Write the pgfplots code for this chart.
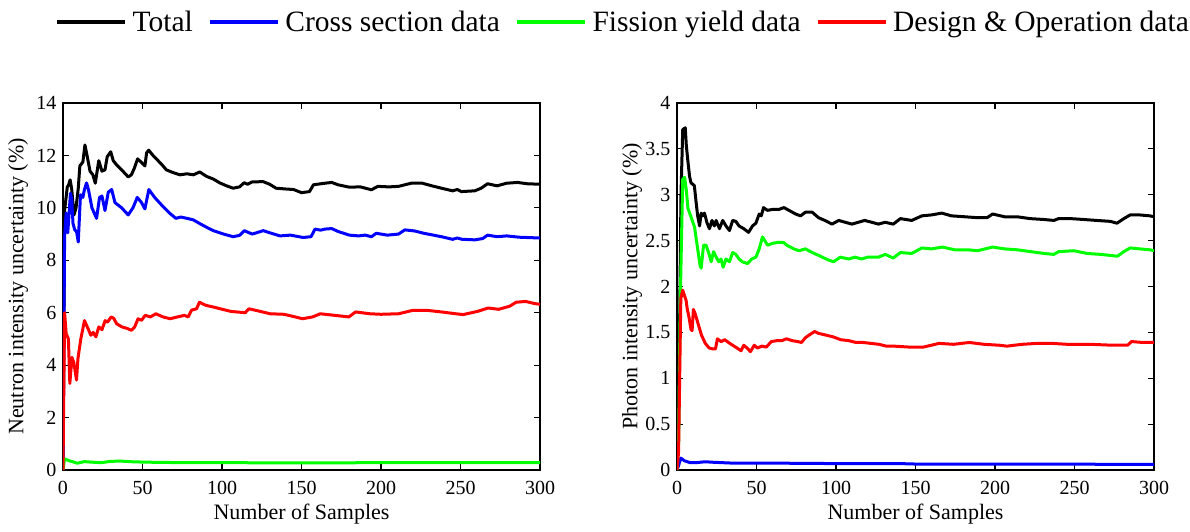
\documentclass[border=0pt]{standalone}
\usepackage{fontspec}
\setmainfont{Liberation Serif}
\usepackage{pgfplots}
\pgfplotsset{compat=1.18}

\begin{document}
\begin{tikzpicture}
\definecolor{cblue}{RGB}{0,0,255}
\definecolor{cgreen}{RGB}{0,255,0}
\definecolor{cred}{RGB}{255,0,0}
% fix the page to the reference frame (axis origin at 63px,470px)
\useasboundingbox (-63pt,-61pt) rectangle (1127pt,470pt);
\pgfplotsset{
  panel/.style={
    scale only axis,
    width=477pt, height=367pt,
    xmin=0, xmax=300,
    xtick={0,50,...,300},
    tick align=inside, tick pos=both,
    major tick length=6pt,
    axis line style={line width=1.5pt},
    every tick/.style={black, line width=1.2pt},
    /pgf/number format/assume math mode=true,
    tick label style={font=\fontsize{20}{24}\selectfont},
    xticklabel style={yshift=-8pt},
    yticklabel style={xshift=-3pt},
    label style={font=\fontsize{22}{26}\selectfont},
    xlabel={Number of Samples},
    xlabel style={at={(axis description cs:0.5,-0.12)}, anchor=center},
    ylabel style={at={(axis description cs:-0.094,0.5)}, anchor=center},
    every axis plot/.append style={line width=3pt, line join=round},
  },
}
\begin{axis}[
  panel,
  ymin=0, ymax=14,
  ytick={0,2,...,14},
  ylabel={Neutron intensity uncertainty (\%)},
  legend columns=4,
  legend style={
    at={(axis description cs:1.173,1.221)}, anchor=center,
    draw=none, fill=none,
    font=\fontsize{29.5}{32}\selectfont,
    /tikz/every odd column/.append style={column sep=4pt},
    /tikz/every even column/.append style={column sep=14pt},
    nodes={inner sep=1pt},
  },
  legend image code/.code={\draw[#1, line width=4.5pt] (0pt,0pt) -- (68pt,0pt);},
]
% total
\addplot[black] coordinates {(0,0) (1,9.9) (2.7,10.8) (3.5,10.87) (4.5,11.07) (5.5,10.7) (6.9,9.73) (8.2,10.0) (9.6,10.75) (10.6,11.6) (12.5,11.75) (13.8,12.4) (14.8,12.1) (17,11.4) (18.8,11.26) (20.3,10.94) (22.5,11.8) (24.5,11.4) (26.4,11.45) (27.8,11.95) (30,12.14) (31.6,11.8) (33.7,11.64) (36.9,11.45) (41,11.18) (43,11.26) (45,11.53) (46.9,11.87) (48.5,11.78) (51.5,11.6) (52.6,12.1) (53.9,12.2) (56.6,12.0) (59.8,11.8) (62.9,11.6) (65,11.45) (69,11.35) (73.6,11.26) (78,11.3) (82,11.26) (86,11.37) (90.3,11.2) (94.5,11.1) (98.7,10.95) (102.9,10.84) (107,10.75) (111,10.8) (114,10.96) (116,10.9) (119,10.99) (125.9,11.0) (130,10.9) (134,10.75) (140,10.72) (145,10.7) (150,10.58) (155,10.62) (157.5,10.88) (164.7,10.94) (169,10.97) (173,10.88) (180,10.79) (187,10.8) (194,10.69) (198,10.82) (205,10.8) (211,10.82) (219,10.94) (226,10.94) (232,10.84) (238,10.75) (245,10.65) (248,10.7) (250.5,10.62) (259,10.65) (263,10.75) (267,10.92) (273,10.84) (279,10.94) (285.8,10.97) (292,10.92) (300,10.9)};
% cross section
\addplot[cblue] coordinates {(0,0) (1,8.9) (2,9.8) (3,9.05) (4.7,10.56) (5.5,10.3) (6.3,9.4) (7.4,9.16) (8.5,9.1) (9.6,8.7) (11,10.5) (12.5,10.4) (13.5,10.7) (14.8,10.95) (16,10.7) (18.2,10.0) (21.1,9.6) (23,10.4) (24.5,10.45) (26.4,9.9) (28.5,10.6) (30.6,10.7) (32.7,10.2) (36.9,10.0) (41,9.73) (44,10.0) (46.7,10.4) (49.4,10.2) (51.5,9.96) (54,10.7) (57.6,10.4) (62.9,10.05) (67,9.8) (71,9.6) (74,9.65) (78,9.6) (82,9.54) (86,9.4) (90,9.27) (94.5,9.13) (101,9.0) (107,8.9) (111,8.95) (114,9.13) (119,9.0) (126,9.13) (130,9.05) (136.5,8.93) (143,8.96) (151,8.87) (156,8.9) (158.5,9.19) (162,9.15) (164.7,9.19) (169,9.21) (173,9.1) (180,8.96) (186,8.93) (190,8.96) (194,8.9) (197,9.03) (204,8.96) (211,9.0) (215,9.16) (221,9.12) (227,9.03) (238,8.9) (245,8.8) (248,8.85) (251,8.8) (259,8.78) (264,8.83) (267,8.96) (273,8.9) (279,8.93) (287,8.88) (300,8.85)};
% fission yield
\addplot[cgreen] coordinates {(0,0) (1,0.42) (2,0.4) (4.5,0.34) (7,0.3) (9,0.26) (13.5,0.32) (18,0.3) (24,0.28) (30,0.33) (36,0.34) (45,0.31) (60,0.29) (80,0.28) (100,0.28) (150,0.27) (200,0.28) (250,0.28) (300,0.28)};
% design and operation
\addplot[cred] coordinates {(0,0) (1,6.0) (2,5.2) (3.4,5.0) (4.3,3.3) (5.6,4.3) (6.8,4.1) (8.5,3.43) (9.4,4.25) (11.2,5.0) (13.5,5.7) (15.7,5.4) (17.5,5.14) (19,5.25) (20.7,5.08) (22.5,5.46) (24.5,5.35) (26.5,5.7) (28,5.64) (30.3,5.84) (32,5.78) (33.7,5.58) (37,5.46) (40.4,5.4) (43,5.33) (45,5.45) (47.2,5.77) (49.4,5.71) (51.7,5.9) (55,5.84) (58.4,5.96) (62.9,5.84) (67.4,5.77) (72,5.84) (76.4,5.9) (78.7,5.84) (80.9,6.1) (84,6.15) (85.8,6.4) (89.9,6.28) (94.4,6.22) (98.9,6.15) (105.6,6.05) (114.6,6.0) (116.9,6.15) (121.3,6.09) (130.3,5.96) (139,5.94) (146,5.84) (150.6,5.77) (157,5.84) (161.8,5.96) (170.8,5.9) (179.8,5.84) (184,6.03) (193,5.96) (200,5.94) (211,5.96) (220,6.09) (229,6.09) (238,6.03) (247,5.96) (251.7,5.93) (260.7,6.05) (267.4,6.18) (274,6.13) (281,6.25) (285,6.4) (291,6.43) (296.6,6.35) (300,6.32)};
\legend{Total, Cross section data, Fission yield data, Design \& Operation data}
\end{axis}

\begin{axis}[
  panel,
  xshift=614pt,
  ymin=0, ymax=4,
  ytick={0,0.5,...,4},
  ylabel={Photon intensity uncertainty (\%)},
]
\addplot[black] coordinates {(0,0) (1,0.5) (2.5,3.0) (3.6,3.71) (4.4,3.72) (5.2,3.73) (5.8,3.55) (6.7,3.39) (7.9,3.2) (8.8,3.13) (10.9,3.1) (12,2.92) (13,2.77) (14.2,2.66) (15.2,2.8) (16.2,2.77) (17.3,2.8) (18.75,2.7) (20.4,2.63) (22,2.72) (23.5,2.66) (24.6,2.72) (26.7,2.63) (28.75,2.72) (30.8,2.66) (33,2.61) (35,2.72) (37,2.71) (39,2.66) (42,2.63) (45,2.59) (47.5,2.66) (49.6,2.69) (51.7,2.79) (53,2.77) (54.4,2.86) (56.9,2.83) (60,2.84) (64,2.84) (67.3,2.86) (70.4,2.83) (74.6,2.79) (77.7,2.77) (80.8,2.81) (85,2.81) (89,2.75) (93,2.72) (97.5,2.68) (101.7,2.72) (105.8,2.7) (110,2.68) (114,2.7) (118,2.72) (122.5,2.7) (126.7,2.68) (130.9,2.7) (136,2.68) (140.5,2.74) (147.6,2.72) (154,2.77) (160,2.78) (166.5,2.8) (172.6,2.77) (181,2.76) (189,2.75) (195,2.75) (198.5,2.79) (206,2.76) (214,2.76) (222,2.74) (231,2.73) (237,2.72) (240,2.74) (247.5,2.74) (256,2.73) (264,2.72) (272.5,2.71) (276.7,2.69) (281,2.74) (285,2.78) (291,2.78) (297.5,2.77) (300,2.76)};
\addplot[cblue] coordinates {(0,0) (1,0.05) (2.4,0.13) (4.7,0.1) (8.3,0.08) (12,0.08) (17.8,0.09) (22,0.085) (35,0.075) (60,0.075) (100,0.07) (140,0.07) (150,0.065) (200,0.065) (250,0.063) (300,0.062)};
\addplot[cgreen] coordinates {(0,0) (1,0.3) (2,1.8) (3.6,3.17) (4.8,3.19) (5.8,3.06) (6.9,2.85) (9,2.75) (11,2.65) (13,2.41) (14.5,2.23) (15.2,2.2) (16.7,2.45) (18.3,2.45) (20.4,2.34) (21.5,2.27) (23,2.38) (24.6,2.32) (26.3,2.27) (27.7,2.3) (29,2.21) (30.8,2.3) (33,2.27) (35,2.37) (37,2.35) (39,2.3) (41,2.27) (44.4,2.25) (47,2.3) (49.6,2.32) (51.7,2.41) (53.75,2.54) (57,2.45) (60,2.47) (63,2.48) (67,2.48) (69,2.45) (73.5,2.41) (76.7,2.39) (80.8,2.41) (85,2.37) (89,2.34) (95,2.29) (98.5,2.27) (102.7,2.32) (108,2.3) (112,2.32) (116,2.3) (120,2.32) (126.7,2.32) (131,2.35) (136,2.31) (140.5,2.37) (147.6,2.36) (154,2.42) (160,2.41) (167,2.43) (174.6,2.40) (183,2.40) (189,2.39) (198.5,2.43) (206,2.41) (214,2.40) (222.5,2.38) (231,2.36) (237,2.35) (240,2.38) (249.6,2.39) (258,2.36) (266.6,2.35) (277,2.33) (281,2.38) (285,2.42) (291,2.41) (297.5,2.40) (300,2.39)};
\addplot[cred] coordinates {(0,0) (1,0.2) (2.4,1.87) (3.6,1.96) (4.7,1.9) (5.7,1.85) (6.4,1.76) (7.5,1.67) (8.8,1.53) (9.5,1.52) (10.3,1.75) (11.5,1.7) (13.5,1.58) (15.4,1.47) (17.8,1.38) (20.2,1.33) (22.5,1.32) (24.2,1.32) (25.4,1.43) (27.7,1.4) (30,1.42) (33.2,1.38) (36.8,1.34) (40.3,1.30) (42,1.36) (44,1.33) (46.2,1.29) (48.6,1.36) (50.5,1.33) (53.4,1.35) (56.2,1.34) (59.3,1.4) (62.8,1.41) (66,1.41) (68.8,1.43) (72.3,1.41) (75.9,1.40) (78.3,1.39) (80.6,1.44) (83,1.47) (86.6,1.51) (88.9,1.49) (93.7,1.47) (98.4,1.45) (103,1.42) (108,1.41) (112.6,1.39) (117,1.39) (122,1.38) (127,1.37) (131.6,1.35) (136.4,1.35) (145.8,1.34) (155,1.34) (160,1.36) (164.8,1.38) (174,1.37) (183.8,1.39) (193,1.37) (202.7,1.36) (207.5,1.35) (217,1.37) (226.5,1.38) (236,1.38) (245.4,1.37) (259.7,1.37) (273.9,1.36) (283.4,1.36) (285.8,1.40) (292.9,1.39) (300,1.39)};
\end{axis}
\end{tikzpicture}
\end{document}
